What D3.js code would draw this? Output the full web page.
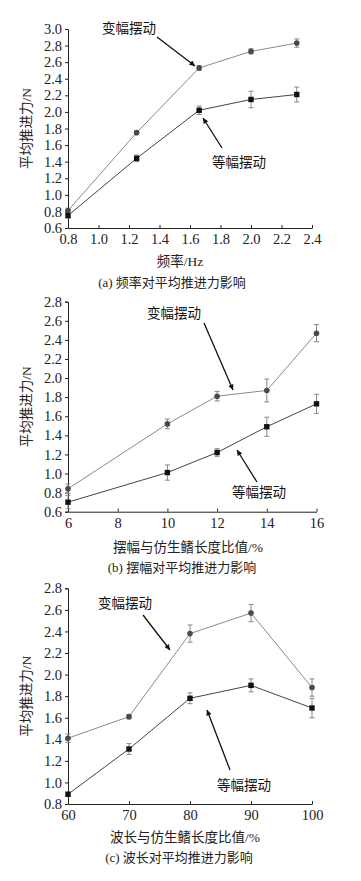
<!DOCTYPE html>
<html>
<head>
<meta charset="utf-8">
<script src="https://cdn.jsdelivr.net/npm/d3@7"></script>
<style>
body{margin:0;background:#fff;}
text{font-family:"Liberation Serif","Noto Sans CJK SC",serif;}
</style>
</head>
<body>
<div class="home"></div>
<script>
// panel (a) frequency
var freqX = [0.8, 1.25, 1.66, 2.0, 2.3];
var freqVar = [0.81, 1.75, 2.53, 2.73, 2.83];
var freqVarErr = [0.03, 0.02, 0.03, 0.03, 0.05];
var freqEq = [0.75, 1.44, 2.02, 2.15, 2.21];
var freqEqErr = [0.03, 0.04, 0.05, 0.10, 0.09];
var freqXTicks = [0.8, 1.0, 1.2, 1.4, 1.6, 1.8, 2.0, 2.2, 2.4];

// panel (b) amplitude
var ampX = [6, 10, 12, 14, 16];
var ampVar = [0.84, 1.52, 1.81, 1.87, 2.47];
var ampVarErr = [0.05, 0.05, 0.05, 0.12, 0.09];
var ampEq = [0.70, 1.01, 1.22, 1.49, 1.73];
var ampEqErr = [0.07, 0.08, 0.04, 0.10, 0.10];
var ampXTicks = [6, 8, 10, 12, 14, 16];

// panel (c) wavelength
var waveX = [60, 70, 80, 90, 100];
var waveVar = [1.41, 1.61, 2.38, 2.57, 1.88];
var waveVarErr = [0.04, 0.02, 0.08, 0.08, 0.08];
var waveEq = [0.89, 1.31, 1.78, 1.90, 1.69];
var waveEqErr = [0.02, 0.05, 0.05, 0.06, 0.09];
var waveXTicks = [60, 70, 80, 90, 100];

var svg = d3.select(".home").append("svg")
    .attr("width", 361).attr("height", 881);

svg.append("defs").append("marker")
    .attr("id", "arr").attr("viewBox", "0 0 10 10")
    .attr("refX", 10).attr("refY", 5)
    .attr("markerWidth", 8).attr("markerHeight", 4.2)
    .attr("orient", "auto")
    .attr("markerUnits", "strokeWidth")
    .append("path").attr("d", "M0,0 L10,5 L0,10 z").attr("fill", "#111");

function panel(o){
  var g = svg.append("g");
  var x = d3.scaleLinear().domain(o.xd).range([68, o.xr]);
  var y = d3.scaleLinear().domain(o.yd).range([o.yb, o.yt]);
  var yTicks = d3.range(o.yd[0], o.yd[1] + 0.001, 0.2);

  // y axis
  var ya = g.append("g").attr("transform", "translate(68,0)")
    .call(d3.axisLeft(y).tickValues(yTicks).tickFormat(d3.format(".1f")).tickSize(3).tickPadding(3));
  ya.select(".domain").attr("stroke", "#222");
  ya.selectAll("text").attr("font-size", 14.5).attr("fill", "#222");
  ya.selectAll("line").attr("stroke", "#222");

  // x axis, ticks pointing up
  var xa = g.append("g").attr("transform", "translate(0," + o.yb + ")")
    .call(d3.axisBottom(x).tickValues(o.xt).tickFormat(o.xf).tickSizeInner(-3).tickSizeOuter(0).tickPadding(6));
  xa.select(".domain").attr("stroke", "#222");
  xa.selectAll("text").attr("font-size", 14.5).attr("fill", "#222");
  xa.selectAll("line").attr("stroke", "#222");

  var line = d3.line().x(function(d){return x(d[0]);}).y(function(d){return y(d[1]);});
  var vd = o.xs.map(function(v,i){return [v, o.v[i], o.ve[i]];});
  var ed = o.xs.map(function(v,i){return [v, o.e[i], o.ee[i]];});

  g.append("path").datum(vd).attr("d", line).attr("fill", "none").attr("stroke", "#8a8a8a").attr("stroke-width", 1);
  g.append("path").datum(ed).attr("d", line).attr("fill", "none").attr("stroke", "#444").attr("stroke-width", 1);

  [vd, ed].forEach(function(data){
    data.forEach(function(d){
      var cx = x(d[0]);
      g.append("line").attr("x1", cx).attr("x2", cx).attr("y1", y(d[1]-d[2])).attr("y2", y(d[1]+d[2]))
        .attr("stroke", "#888").attr("stroke-width", 1);
      g.append("line").attr("x1", cx-2.5).attr("x2", cx+2.5).attr("y1", y(d[1]-d[2])).attr("y2", y(d[1]-d[2]))
        .attr("stroke", "#888").attr("stroke-width", 1);
      g.append("line").attr("x1", cx-2.5).attr("x2", cx+2.5).attr("y1", y(d[1]+d[2])).attr("y2", y(d[1]+d[2]))
        .attr("stroke", "#888").attr("stroke-width", 1);
    });
  });

  g.selectAll("circle.v").data(vd).enter().append("circle")
    .attr("cx", function(d){return x(d[0]);}).attr("cy", function(d){return y(d[1]);})
    .attr("r", 2.8).attr("fill", "#4a4a4a");
  g.selectAll("rect.e").data(ed).enter().append("rect")
    .attr("x", function(d){return x(d[0]) - 2.7;}).attr("y", function(d){return y(d[1]) - 2.7;})
    .attr("width", 5.4).attr("height", 5.4).attr("fill", "#111");

  // annotations
  o.notes.forEach(function(n){
    g.append("text").attr("x", n.tx).attr("y", n.ty).attr("font-size", 13.5).attr("fill", "#111").text(n.t);
    g.append("line").attr("x1", n.a[0]).attr("y1", n.a[1]).attr("x2", n.a[2]).attr("y2", n.a[3])
      .attr("stroke", "#111").attr("stroke-width", 1.3).attr("marker-end", "url(#arr)");
  });

  // y label
  g.append("text").attr("transform", "translate(31," + ((o.yt + o.yb)/2) + ") rotate(-90)")
    .attr("text-anchor", "middle").attr("font-size", 13.5).attr("fill", "#222").text("平均推进力/N");
  g.append("text").attr("x", o.lx).attr("y", o.ly).attr("text-anchor", "middle")
    .attr("font-size", 13.5).attr("fill", "#222").text(o.xl);
  g.append("text").attr("x", o.cx).attr("y", o.cy).attr("text-anchor", "middle")
    .attr("font-size", 13).attr("fill", "#222").text(o.cap);
}

panel({xd:[0.8, 2.4], xr:312, yd:[0.6, 3.0], yb:228, yt:29, xs:freqX, v:freqVar, ve:freqVarErr, e:freqEq, ee:freqEqErr,
  xt:freqXTicks, xf:d3.format(".1f"), lx:180, ly:266, xl:"频率/Hz", cx:172, cy:287, cap:"(a) 频率对平均推进力影响",
  notes:[{t:"变幅摆动", tx:102, ty:33, a:[157,37,195,66]}, {t:"等幅摆动", tx:212, ty:167, a:[222,148,203,118]}]});

panel({xd:[6, 16], xr:316.5, yd:[0.6, 2.8], yb:511.7, yt:301.7, xs:ampX, v:ampVar, ve:ampVarErr, e:ampEq, ee:ampEqErr,
  xt:ampXTicks, xf:d3.format("d"), lx:188, ly:552, xl:"摆幅与仿生鳍长度比值/%", cx:182, cy:572, cap:"(b) 摆幅对平均推进力影响",
  notes:[{t:"变幅摆动", tx:147, ty:318, a:[204,323,233,390]}, {t:"等幅摆动", tx:232, ty:497, a:[257,482,237,450]}]});

panel({xd:[60, 100], xr:312, yd:[0.8, 2.8], yb:804, yt:588.3, xs:waveX, v:waveVar, ve:waveVarErr, e:waveEq, ee:waveEqErr,
  xt:waveXTicks, xf:d3.format("d"), lx:185, ly:842, xl:"波长与仿生鳍长度比值/%", cx:179, cy:862, cap:"(c) 波长对平均推进力影响",
  notes:[{t:"变幅摆动", tx:98, ty:608, a:[143,615,170,650]}, {t:"等幅摆动", tx:217, ty:790, a:[230,770,207,710]}]});
</script>
</body>
</html>
